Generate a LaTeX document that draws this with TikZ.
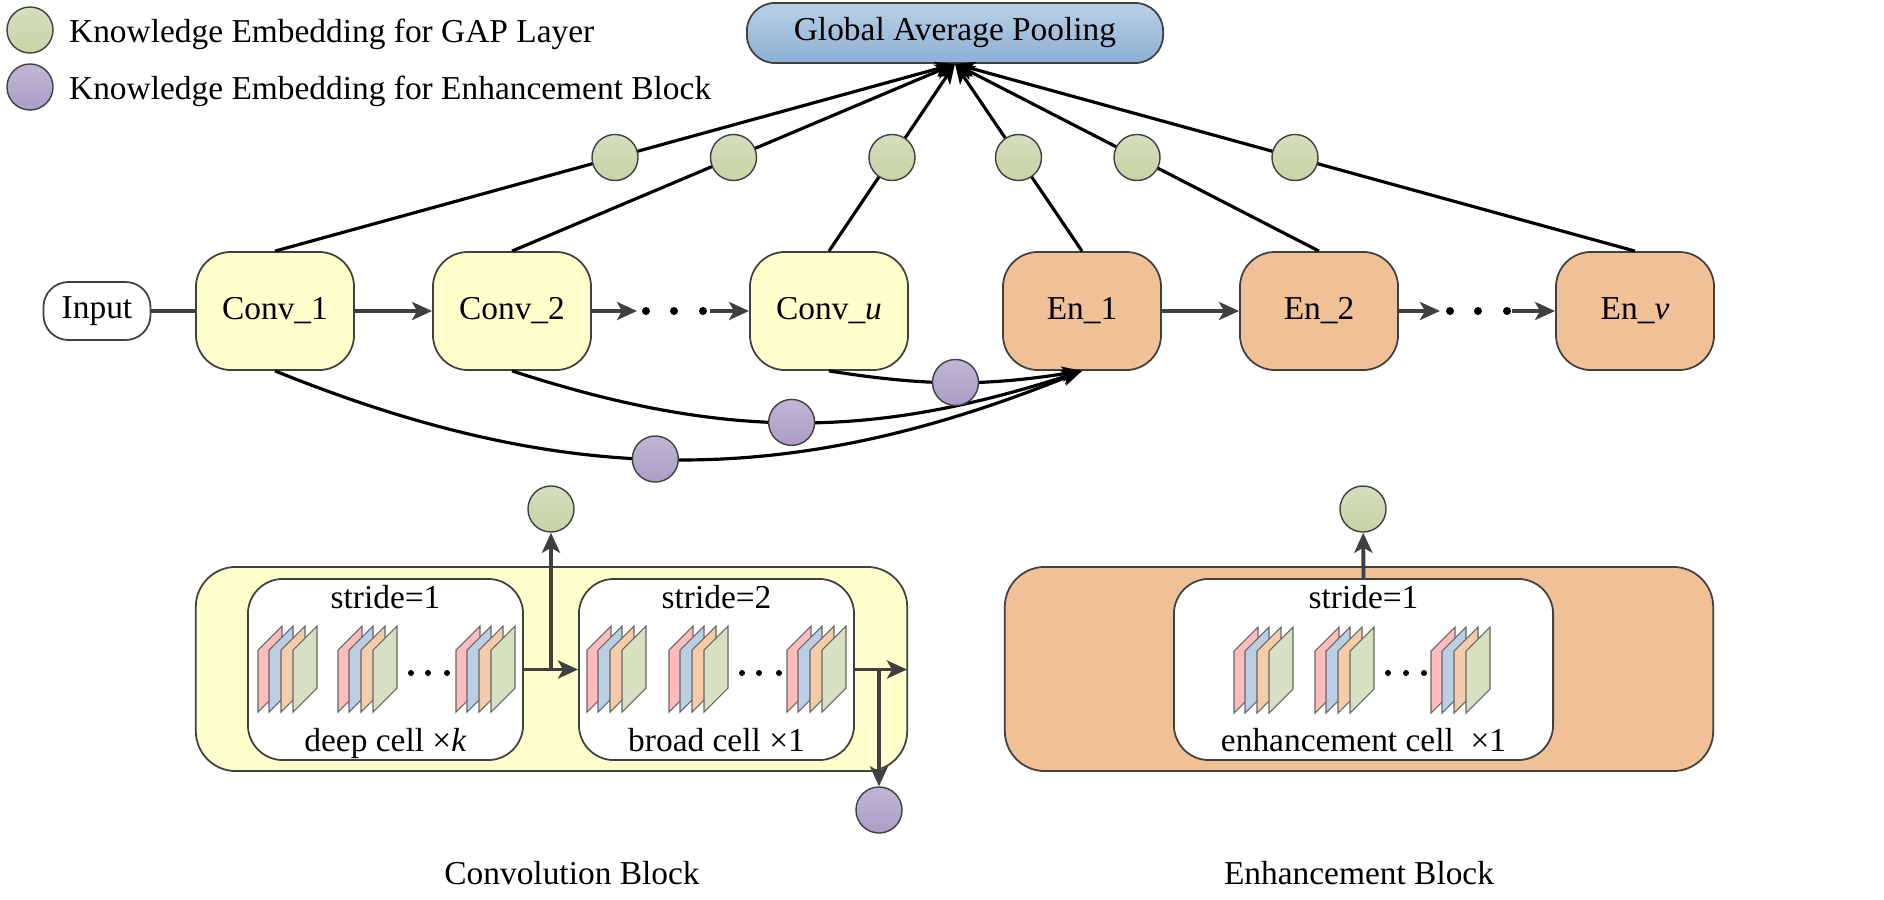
\documentclass[tikz,border=0pt]{standalone}
\usepackage{fontspec}
\setmainfont{Liberation Serif}
\usepackage{tikz}
\usetikzlibrary{arrows.meta}
\usetikzlibrary{positioning}

\definecolor{convyellow}{RGB}{255,255,204}
\definecolor{enorange}{RGB}{240,192,150}
\definecolor{kegreen}{RGB}{200,211,166}
\definecolor{kepurple}{RGB}{170,158,198}
\definecolor{gapblue}{RGB}{140,176,212}
\definecolor{arrowgray}{RGB}{64,64,64}
\definecolor{sheetpink}{RGB}{255,188,188}
\definecolor{sheetblue}{RGB}{186,206,228}
\definecolor{sheetorange}{RGB}{244,204,168}
\definecolor{sheetgreen}{RGB}{216,224,194}

\begin{document}
\begin{tikzpicture}[x=0.01cm,y=-0.01cm,font=\fontsize{9.5}{11}\selectfont,
  block/.style={draw=black!75, line width=0.5pt, rounded corners=0.35cm, minimum width=1.58cm, minimum height=1.18cm},
  conv/.style={block, fill=convyellow},
  en/.style={block, fill=enorange},
  cellbox/.style={draw=black!75, line width=0.5pt, fill=white, rounded corners=0.35cm, minimum height=1.81cm},
  ke/.style={circle, draw=black!75, line width=0.4pt, minimum size=0.46cm, inner sep=0pt},
  gapke/.style={ke, top color=kegreen!75!white, bottom color=kegreen},
  enke/.style={ke, top color=kepurple!75!white, bottom color=kepurple},
  chain/.style={draw=arrowgray, line width=1.1pt, -{Stealth[length=0.2cm,width=0.18cm,inset=0.05cm]}},
  togap/.style={line width=0.9pt, -{Stealth[length=0.2cm,width=0.15cm,inset=0.05cm]}}]
\useasboundingbox (0,0) rectangle (1884,900);

% legend
\node[gapke] (leg1) at (30,30) {};
\node[enke] (leg2) at (30,87) {};
\node[right=0.03cm of leg1, yshift=-0.04cm] (leg1text) {Knowledge Embedding for GAP Layer};
\node[right=0.03cm of leg2, yshift=-0.04cm] (leg2text) {Knowledge Embedding for Enhancement Block};

% main chain
\node[draw=black!75, line width=0.5pt, top color=gapblue!60!white, bottom color=gapblue, rounded corners=0.28cm, minimum width=4.16cm, minimum height=0.6cm] (gap) at (955,33) {Global Average Pooling};
\node[draw=black!75, line width=0.5pt, rounded corners=0.25cm, minimum width=1.07cm, minimum height=0.58cm] (input) at (97,311) {Input};
\node[conv] (conv1) at (275,311) {Conv\_1};
\node[conv] (conv2) at (512,311) {Conv\_2};
\node[conv] (convu) at (829,311) {Conv\_\textit{u}};
\node[en] (en1) at (1082,311) {En\_1};
\node[en] (en2) at (1319,311) {En\_2};
\node[en] (env) at (1635,311) {En\_\textit{v}};
\coordinate (cdots1) at (637,311);
\coordinate (cdots2) at (710,311);
\coordinate (edots1) at (1440,311);
\coordinate (edots2) at (1512,311);

\draw[draw=arrowgray, line width=1.1pt] (input) -- (conv1);
\draw[chain] (conv1) -- (conv2);
\draw[chain] (conv2) -- (cdots1);
\draw[chain] (cdots2) -- (convu);
\draw[chain] (en1) -- (en2);
\draw[chain] (en2) -- (edots1);
\draw[chain] (edots2) -- (env);
\foreach \x in {646,674,703,1450,1478,1507}
  \fill (\x,311) circle (0.04cm);

% knowledge embedding for GAP layer
\foreach \n in {conv1,conv2,convu,en1,en2,env}
  \draw[togap] (\n.north) -- node[gapke] (ke-\n) {} (gap.south);

% knowledge embedding for enhancement block
\draw[togap] (conv1.south) to[bend right=22] node[enke, pos=0.47] (ke1) {} (en1.south);
\draw[togap] (conv2.south) to[bend right=18] node[enke, pos=0.49] (ke2) {} (en1.south);
\draw[togap] (convu.south) to[bend right=9] node[enke] (keu) {} (en1.south);

% convolution block
\node[draw=black!75, line width=0.5pt, fill=convyellow, rounded corners=0.4cm, minimum width=7.11cm, minimum height=2.04cm] (convblock) at (551.5,669) {};
\node[cellbox, minimum width=2.75cm] (deep) at (385.5,669.5) {};
\node[cellbox, minimum width=2.75cm] (broad) at (716.5,669.5) {};
\node[anchor=base] (deeptop) at ([yshift=-0.3cm]deep.north) {stride=1};
\node[anchor=base] (deepbot) at ([yshift=0.09cm]deep.south) {deep cell ×\textit{k}};
\node[anchor=base] (broadtop) at ([yshift=-0.3cm]broad.north) {stride=2};
\node[anchor=base] (broadbot) at ([yshift=0.09cm]broad.south) {broad cell ×1};
\node[gapke] (kedeep) at (551,509) {};
\node[enke] (kebroad) at (879,810) {};
\coordinate (branch1) at (551,669.5);
\coordinate (branch2) at (879,669.5);
\coordinate (convout) at (907,669.5);
\draw[chain] (deep.east) -- (broad.west);
\draw[chain] (branch1) -- (kedeep);
\draw[chain] (broad.east) -- (convout);
\draw[chain] (branch2) -- (kebroad);

% enhancement block
\node[draw=black!75, line width=0.5pt, fill=enorange, rounded corners=0.4cm, minimum width=7.08cm, minimum height=2.04cm] (enblock) at (1359,669) {};
\node[cellbox, minimum width=3.79cm] (enbox) at (1363.5,669.5) {};
\node[anchor=base] (entop) at ([yshift=-0.3cm]enbox.north) {stride=1};
\node[anchor=base] (enbot) at ([yshift=0.09cm]enbox.south) {enhancement cell\ \ ×1};
\node[gapke] (keen) at (1363,509) {};
\draw[chain] (enbox.north) -- (keen);

% feature maps
\foreach \sx/\sy in {258/712,338/712,456/712,587/712,669/712,787/712,1234/713,1315/713,1431/713}
  \foreach \dx/\col in {0/sheetpink,11/sheetblue,23/sheetorange,35/sheetgreen}
    \filldraw[fill=\col, draw=black!60, line width=0.3pt] (\sx+\dx,\sy) -- ++(0,-62) -- ++(24,-24) -- ++(0,62) -- cycle;
\foreach \x in {411,428,447,742,759,779,1388,1406,1424}
  \fill (\x,673) circle (0.03cm);

% block labels
\node (convlabel) at (572,873) {Convolution Block};
\node (enlabel) at (1359,873) {Enhancement Block};
\end{tikzpicture}
\end{document}
